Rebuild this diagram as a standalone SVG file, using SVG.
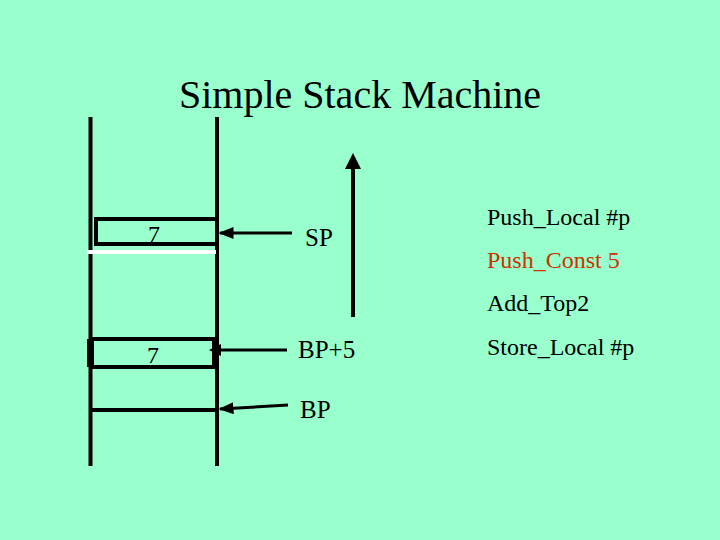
<svg xmlns="http://www.w3.org/2000/svg" width="720" height="540" viewBox="0 0 720 540">
<defs>
<style>
.t{font-family:"Liberation Serif","Times New Roman",serif;fill:#000}
.ln{stroke:#000;fill:none}
</style>
<marker id="ah" markerWidth="5" markerHeight="4" viewBox="0 0 5 4" refX="4.5" refY="2" orient="auto" markerUnits="strokeWidth">
<path d="M0,0 L5,2 L0,4 Z" fill="#000"/>
</marker>
<marker id="ahs" markerWidth="4" markerHeight="4" viewBox="0 0 4 4" refX="3" refY="2" orient="auto" markerUnits="strokeWidth">
<path d="M0,0 L4,2 L0,4 Z" fill="#000"/>
</marker>
</defs>
<rect width="720" height="540" fill="#99FFCC"/>
<text id="title" class="t" x="360" y="108" font-size="40" text-anchor="middle">Simple Stack Machine</text>
<g id="stack">
<line class="ln" x1="90.5" y1="117" x2="90.5" y2="466" stroke-width="4"/>
<line class="ln" x1="217" y1="117" x2="217" y2="466" stroke-width="4"/>
</g>
<g id="box-top">
<rect class="ln" x="96" y="219" width="121" height="25" stroke-width="4"/>
<line x1="87" y1="252" x2="216" y2="252" stroke="#fff" stroke-width="4"/>
<text class="t" x="154" y="242" font-size="24" text-anchor="middle">7</text>
</g>
<g id="box-bottom">
<rect class="ln" x="92" y="339" width="123" height="28" stroke-width="4"/>
<line class="ln" x1="90" y1="339" x2="90" y2="367" stroke-width="6"/>
<line class="ln" x1="215" y1="339" x2="215" y2="367" stroke-width="6"/>
<line class="ln" x1="90" y1="410" x2="217" y2="410" stroke-width="4"/>
<text class="t" x="153" y="363" font-size="24" text-anchor="middle">7</text>
</g>
<g id="connectors">
<line class="ln" x1="292" y1="233" x2="220" y2="233" stroke-width="3" marker-end="url(#ah)"/>
<line class="ln" x1="287" y1="350" x2="212" y2="350" stroke-width="3" marker-end="url(#ahs)"/>
<line class="ln" x1="288" y1="405" x2="220" y2="409" stroke-width="3" marker-end="url(#ah)"/>
<line class="ln" x1="353" y1="317" x2="353" y2="157" stroke-width="4" marker-end="url(#ahs)"/>
</g>
<g id="labels">
<text class="t" x="305" y="246" font-size="25">SP</text>
<text class="t" x="298" y="358" font-size="25">BP+5</text>
<text class="t" x="300" y="418" font-size="25">BP</text>
</g>
<g id="program">
<text class="t" x="487" y="225" font-size="24">Push_Local #p</text>
<text class="t" x="487" y="268" font-size="24" style="fill:#CC3300">Push_Const 5</text>
<text class="t" x="487" y="311" font-size="24">Add_Top2</text>
<text class="t" x="487" y="355" font-size="24">Store_Local #p</text>
</g>
</svg>
